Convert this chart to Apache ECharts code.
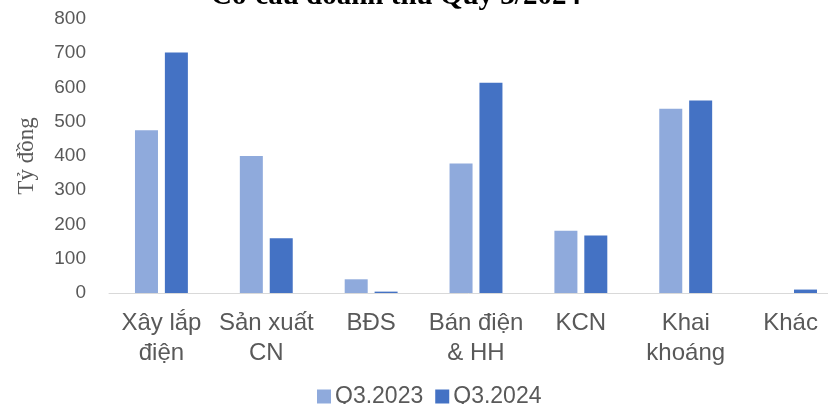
<!DOCTYPE html>
<html>
<head>
<meta charset="utf-8">
<script src="https://cdn.jsdelivr.net/npm/echarts@6/dist/echarts.min.js"></script>
<style>
  html, body { margin: 0; padding: 0; background: #fff; }
  #chart { width: 828px; height: 404px; }
</style>
</head>
<body>
<div id="chart"></div>
<script>
// chart data
var categories = ['Xây lắp\nđiện', 'Sản xuất\nCN', 'BĐS', 'Bán điện\n& HH', 'KCN', 'Khai\nkhoáng', 'Khác'];
var q3_2023 = [475, 400, 40, 378, 182, 538, 0];
var q3_2024 = [702, 160, 4, 614, 168, 562, 10];
var yTicks = [0, 100, 200, 300, 400, 500, 600, 700, 800];

var chart = echarts.init(document.getElementById('chart'));

var labelColor = '#595959';

chart.setOption({
    animation: false,
    backgroundColor: '#fff',
    title: {
        text: 'Cơ cấu doanh thu Quý 3/2024',
        left: 391,
        textAlign: 'center',
        top: -23,
        textStyle: {
            fontFamily: 'Liberation Serif',
            fontWeight: 'bold',
            fontSize: 29,
            color: '#000'
        }
    },
    legend: {
        bottom: -9,
        left: 312,
        itemWidth: 14,
        itemHeight: 14,
        itemGap: 12,
        icon: 'rect',
        textStyle: {
            fontFamily: 'Liberation Sans',
            fontSize: 23,
            color: labelColor,
            padding: [0, 0, 0, -1]
        },
        data: ['Q3.2023', 'Q3.2024']
    },
    grid: {
        left: 109,
        width: 734,
        top: 19,
        bottom: 111,
        containLabel: false,
        outerBoundsMode: 'none'
    },
    xAxis: {
        type: 'category',
        data: categories,
        axisLine: { lineStyle: { color: '#d9d9d9', width: 1 } },
        axisTick: { show: false },
        axisLabel: {
            interval: 0,
            margin: 15,
            fontFamily: 'Liberation Sans',
            fontSize: 24,
            lineHeight: 30,
            color: labelColor
        }
    },
    yAxis: {
        type: 'value',
        min: yTicks[0],
        max: yTicks[yTicks.length - 1],
        interval: 100,
        name: 'Tỷ đồng',
        nameLocation: 'middle',
        nameRotate: 90,
        nameGap: 71,
        nameTextStyle: {
            fontFamily: 'Liberation Serif',
            fontSize: 23,
            color: labelColor
        },
        axisLine: { show: false },
        axisTick: { show: false },
        splitLine: { show: false },
        axisLabel: {
            margin: 23,
            fontFamily: 'Liberation Sans',
            fontSize: 19,
            color: labelColor
        }
    },
    series: [
        {
            name: 'Q3.2023',
            type: 'bar',
            data: q3_2023,
            barWidth: 23,
            barGap: '30%',
            itemStyle: { color: '#8faadc' }
        },
        {
            name: 'Q3.2024',
            type: 'bar',
            data: q3_2024,
            barWidth: 23,
            barGap: '30%',
            itemStyle: { color: '#4472c4' }
        }
    ]
});
</script>
</body>
</html>
